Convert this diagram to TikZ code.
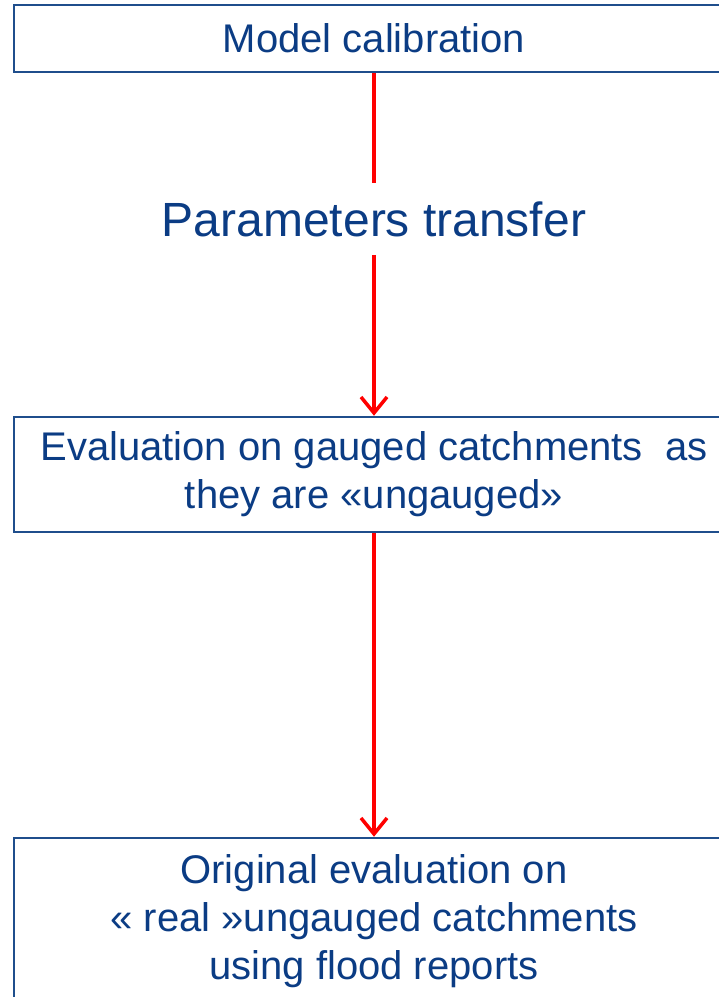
\documentclass[tikz,border=0pt]{standalone}
\usepackage{fontspec}
\setmainfont{Liberation Sans}
\usepackage{xcolor}
\usetikzlibrary{positioning,calc,arrows.meta}
\definecolor{boxblue}{HTML}{1F4E8C}
\definecolor{textblue}{HTML}{0B3C84}
\tikzset{
  flow box/.style={rectangle, draw=boxblue, line width=2.5pt, text=textblue, align=center, minimum width=720pt, font=\fontsize{40}{48}\selectfont},
  flow label/.style={fill=white, text=textblue, inner xsep=2pt, inner ysep=18pt, font=\fontsize{48}{56}\selectfont},
  flow arrow/.style={draw=red, line width=3.5pt}
}
\begin{document}
\begin{tikzpicture}[x=1pt, y=1pt]
    \useasboundingbox (0,0) rectangle (719,-997);
    \clip (0,0) rectangle (719,-997);
    % Boxes
    \node [flow box, minimum height=67pt] (Calib) at (374,-38.5) {Model calibration};
    \node [flow box, minimum height=115pt] (EvalG) at (374,-474.5) {Evaluation on gauged catchments~~as\\they are «ungauged»};
    \node [flow box, minimum height=166pt] (EvalU) at (374,-921) {Original evaluation on\\« real »ungauged catchments\\using flood reports};
    
    % Transfer label on the first arrow
    \node [flow label] (Transfer) at (374,-219) {Parameters transfer};
    
    % Arrows
    \draw [flow arrow] (Calib) -- (Transfer);
    \draw [flow arrow, -{Straight Barb[length=16pt,width=26pt]}] (Transfer) -- (EvalG);
    \draw [flow arrow, -{Straight Barb[length=16pt,width=26pt]}] (EvalG) -- (EvalU);
\end{tikzpicture}
\end{document}
